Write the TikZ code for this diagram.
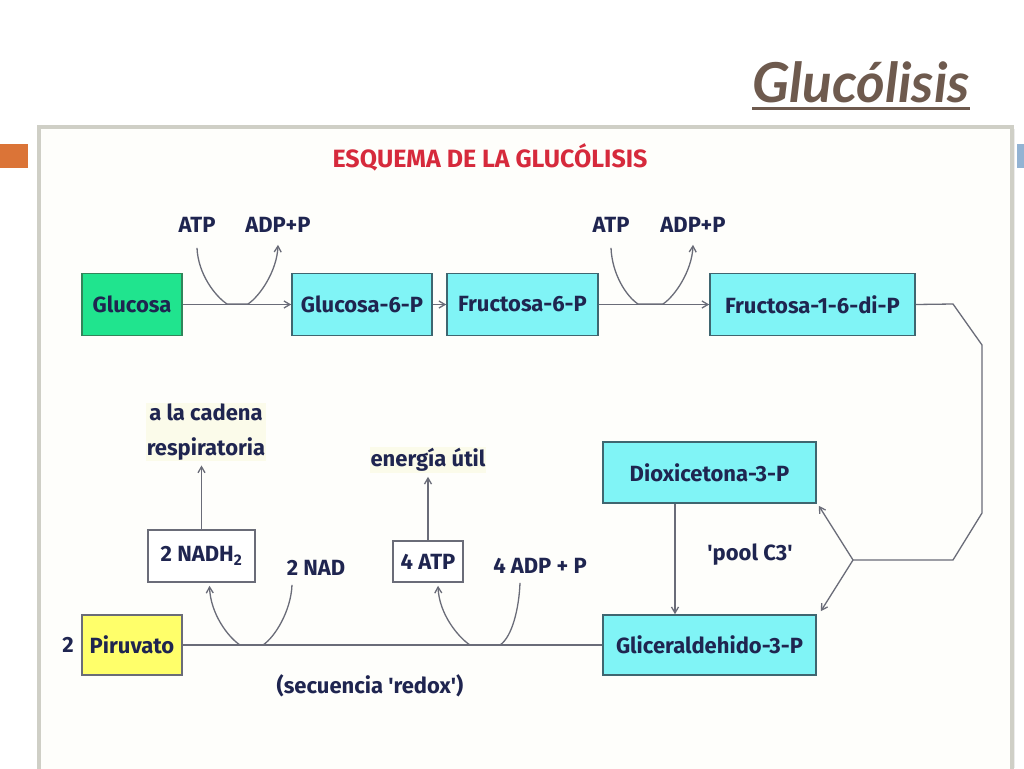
\documentclass[tikz,border=0pt]{standalone}
\usepackage{fontspec}
\setmainfont{Fira Sans}
\newfontfamily\titlefont{Lato}
\usetikzlibrary{arrows.meta}
\definecolor{ink}{HTML}{1F2550}
\definecolor{titlebrown}{HTML}{6E5A4E}
\definecolor{esqred}{HTML}{D62A3C}
\definecolor{linegray}{HTML}{6A6C78}
\definecolor{boxedge}{HTML}{3F6670}
\definecolor{greenfill}{HTML}{20E48E}
\definecolor{cyanfill}{HTML}{80F4F6}
\definecolor{yellowfill}{HTML}{FFFF6A}
\definecolor{framegray}{HTML}{CFCFC6}
\definecolor{orangeacc}{HTML}{DB7437}
\definecolor{blueacc}{HTML}{93B3D3}
\definecolor{halo}{HTML}{FBFBEA}
\definecolor{paper}{HTML}{FEFEFB}
\begin{document}
\begin{tikzpicture}[x=1pt,y=-1pt,
  lbl/.style={text=ink,font=\bfseries\fontsize{22}{25}\selectfont,inner sep=1pt},
  sbox/.style={draw=boxedge,line width=1.6pt,inner sep=0pt,text=ink,font=\bfseries\fontsize{22}{25}\selectfont,minimum height=62pt},
  cbox/.style={sbox,fill=cyanfill},
  wbox/.style={draw=linegray,line width=1.6pt,inner sep=0pt,text=ink,font=\bfseries\fontsize{22}{25}\selectfont,fill=white},
  conn/.style={draw=linegray,line width=1.3pt},
  arr/.style={conn,-{Straight Barb[length=6pt,width=7pt]}},
  note/.style={lbl,fill=halo}]
\useasboundingbox (0,0) rectangle (1024,768);
\fill[white] (0,0) rectangle (1024,768);
% slide decorations
\node[text=titlebrown,font=\titlefont\bfseries\itshape\fontsize{55}{60}\selectfont,inner sep=0pt] (title) at (861,82) {Glucólisis};
\draw[titlebrown,line width=3pt] (752,108) -- (970,108);
\fill[orangeacc] (0,144) rectangle (28,168);
\fill[blueacc] (1017,144) rectangle (1024,168);
% image frame
\fill[gray!15] (41,129) rectangle (1015,768);
\draw[framegray,line width=4pt,fill=paper] (39,127) rectangle (1012,772);
\node[text=esqred,font=\bfseries\fontsize{25}{28}\selectfont,inner sep=0pt] (esq) at (490,157) {ESQUEMA DE LA GLUCÓLISIS};
% top row
\node[sbox,fill=greenfill,draw=boxedge!80!green,minimum width=100pt] (glu) at (132,304.5) {Glucosa};
\node[cbox,minimum width=140pt] (g6p) at (362,304.5) {Glucosa-6-P};
\node[cbox,minimum width=151pt] (f6p) at (522.5,304.5) {Fructosa-6-P};
\node[cbox,minimum width=205pt] (f16) at (812.5,304.5) {Fructosa-1-6-di-P};
\node[lbl] (atp1) at (197,225) {ATP};
\node[lbl] (adp1) at (278,225) {ADP+P};
\node[lbl] (atp2) at (611,225) {ATP};
\node[lbl] (adp2) at (693,225) {ADP+P};
\coordinate (c1a) at (227,304);
\coordinate (c1b) at (248,304);
\coordinate (c2a) at (638,304);
\coordinate (c2b) at (663,304);
\draw[arr] (glu) -- (g6p);
\draw[arr] (g6p) -- (f6p);
\draw[arr] (f6p) -- (f16);
\draw[arr] ([yshift=-14]atp1.south) .. controls +(1,26) and +(-12,-8) .. (c1a) -- (c1b) .. controls +(12,-8) and +(-1,26) .. ([yshift=-11]adp1.south);
\draw[arr] ([yshift=-14]atp2.south) .. controls +(1,26) and +(-12,-8) .. (c2a) -- (c2b) .. controls +(12,-8) and +(-1,26) .. ([yshift=-11]adp2.south);
% C3 pool
\node[cbox,minimum width=213pt,minimum height=61pt] (dhap) at (709.5,472.5) {Dioxicetona-3-P};
\node[cbox,minimum width=213pt,minimum height=60pt] (gap) at (709.5,645) {Gliceraldehido-3-P};
\node[lbl] (pool) at (750,555) {\textquotesingle pool C3\textquotesingle};
\coordinate (split) at (853,560);
\draw[conn] (f16.east) -- (953,304) -- (982,345) -- (982,513) -- (953,560) -- (split);
\draw[arr] (split) -- ([xshift=2,yshift=-2]dhap.south east);
\draw[arr] (split) -- ([xshift=4,yshift=3]gap.north east);
\draw[arr] (dhap.south -| 675,0) -- (gap.north -| 675,0);
% bottom row
\node[sbox,fill=yellowfill,draw=linegray,minimum width=100pt,minimum height=60pt] (pir) at (132,645) {Piruvato};
\node[lbl] (two) at (68,645) {2};
\node[wbox,minimum width=107pt,minimum height=52pt] (nadh) at (201.5,556) {2 NADH\textsubscript{2}};
\node[wbox,minimum width=70pt,minimum height=41pt] (atp4) at (428,561.5) {4 ATP};
\node[lbl] (nad) at (316,568) {2 NAD};
\node[lbl] (adp4) at (540,566) {4 ADP + P};
\node[note,align=center] (cad) at (206,432) {a la cadena\\[10pt]respiratoria};
\node[note] (ene) at (428,460) {energía útil};
\node[lbl] (redox) at (370,686) {(secuencia \textquotesingle redox\textquotesingle)};
\coordinate (c3a) at (263,645);
\coordinate (c3b) at (240,645);
\coordinate (c4a) at (500,645);
\coordinate (c4b) at (470,645);
\draw[conn] (gap.west) -- (pir.east);
\draw[arr] (nadh.north) -- ([yshift=-4]cad.south -| nadh.north);
\draw[arr] (atp4.north) -- ([yshift=-4]ene.south -| atp4.north);
\draw[arr] ([xshift=-24,yshift=-8]nad.south) .. controls +(-1,26) and +(12,-8) .. (c3a) -- (c3b) .. controls +(-12,-8) and +(1,28) .. ([xshift=8,yshift=-3]nadh.south);
\draw[arr] ([xshift=-20,yshift=-8]adp4.south) .. controls +(-1,26) and +(12,-8) .. (c4a) -- (c4b) .. controls +(-12,-8) and +(1,28) .. ([xshift=10,yshift=-3]atp4.south);
\end{tikzpicture}
\end{document}
